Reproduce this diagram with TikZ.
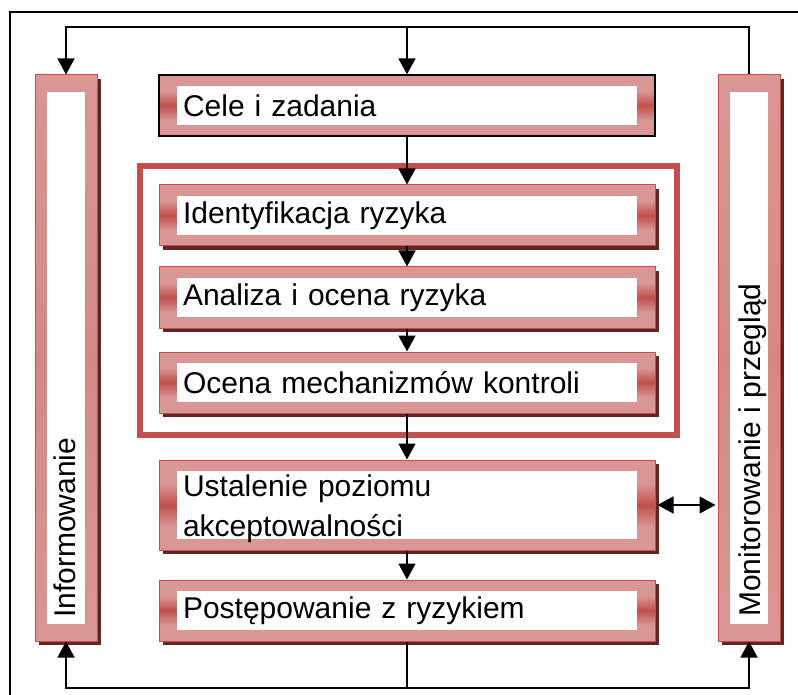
\documentclass[tikz,border=0pt]{standalone}
\usepackage{fontspec}
\setmainfont{Liberation Sans}
\usetikzlibrary{arrows.meta,shadows}
\definecolor{riskpink}{RGB}{217,150,148}
\definecolor{riskred}{RGB}{192,80,77}
\definecolor{riskdark}{RGB}{99,37,35}
\pgfdeclareverticalshading{riskband}{100bp}{color(0bp)=(riskpink); color(38bp)=(riskpink); color(50bp)=(riskred); color(62bp)=(riskpink); color(100bp)=(riskpink)}
\begin{document}
\begin{tikzpicture}[x=1pt,y=-1pt,
  txt/.style={font=\fontsize{30}{40}\selectfont},
  band/.style 2 args={path picture={\fill[white] ([xshift=#1,yshift=-#2]path picture bounding box.north west) rectangle ([xshift=-#1,yshift=#2]path picture bounding box.south east);}},
  boxbase/.style={draw=riskred, line width=1pt, shading=riskband, inner sep=0pt},
  shadowed/.style={drop shadow={fill=riskdark, opacity=1, shadow xshift=4pt, shadow yshift=-4pt}},
  wide/.style={band={18pt}{11pt}, minimum width=496pt, minimum height=61pt, text width=448pt, inner xsep=24pt, align=left, txt},
  column/.style={band={12pt}{17pt}, minimum width=62pt, minimum height=566pt, shading=axis, top color=riskpink, bottom color=riskpink, middle color=riskpink!80!riskred},
  link/.style={line width=1.5pt},
  tip/.tip={Triangle[width=17pt,length=16pt]},
  flow/.style={link, -tip}]
\useasboundingbox (0,0) rectangle (798,695);
\draw[line width=1.5pt] (10,695) -- (10,12) -- (798,12);
\node[draw=riskred, line width=6pt, minimum width=537pt, minimum height=269pt] (stage) at (408.5,300.5){};
\node[boxbase, column, shadowed] (inf) at (66,358){};
\node[txt, rotate=90, anchor=base west, inner sep=0pt] (inftxt) at (75,618){Informowanie};
\node[boxbase, column, shadowed] (mon) at (749,358){};
\node[txt, rotate=90, anchor=base west, inner sep=0pt] (montxt) at (760,617){Monitorowanie i przegląd};
\node[boxbase, wide, draw=black, line width=1.2pt] (cele) at (407,105.5){Cele i zadania};
\node[boxbase, wide, shadowed] (ident) at (407,215.5){Identyfikacja ryzyka};
\node[boxbase, wide, shadowed] (anal) at (407,297.5){Analiza i ocena ryzyka};
\node[boxbase, wide, shadowed] (ocena) at (407,382.5){Ocena mechanizmów kontroli};
\node[boxbase, wide, shadowed, minimum height=90pt] (ustal) at (407,505){\rule{0pt}{30pt}Ustalenie poziomu\\akceptowalności};
\node[boxbase, wide, shadowed] (post) at (407,610.5){Postępowanie z ryzykiem};
\coordinate (topjoin) at (407,27);
\coordinate (botjoin) at (407,688);
\draw[link] (mon.north) |- (topjoin);
\draw[flow] (topjoin) -| (inf.north);
\draw[flow] (topjoin) -- (cele.north);
\draw[flow] (cele) -- (ident);
\draw[flow] (ident) -- (anal);
\draw[flow] (anal) -- (ocena);
\draw[flow] (ocena) -- (ustal);
\draw[flow] (ustal) -- (post);
\draw[link] (post.south) -- (botjoin);
\draw[flow] (botjoin) -| (inf.south);
\draw[flow] (botjoin) -| (mon.south);
\draw[link, tip-tip] ([xshift=2pt]ustal.east) -- ([xshift=-2pt]ustal.east -| mon.west);
\end{tikzpicture}
\end{document}
